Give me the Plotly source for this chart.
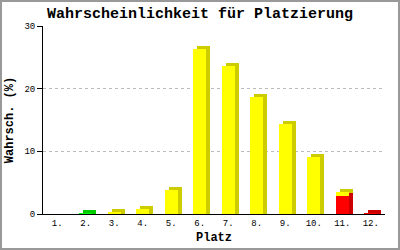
import plotly.graph_objects as go

places = ["1.", "2.", "3.", "4.", "5.", "6.", "7.", "8.", "9.", "10.", "11.", "12."]
green = [0, 0.1, 0, 0, 0, 0, 0, 0, 0, 0, 0, 0]
red = [0, 0, 0, 0, 0, 0, 0, 0, 0, 0, 2.9, 0.1]
yellow = [0, 0, 0.3, 0.8, 3.8, 26.4, 23.6, 18.7, 14.4, 9.1, 0.6, 0]

pos = list(range(1, len(places) + 1))
W = 0.46      # front width (category units)
DX = 0.14     # depth offset x
DY = 0.48     # depth offset y

series = [
    # values, base, front colour, side colour
    (red, [0] * 12, "#FF0000", "#CC0000"),
    (yellow, red, "#FFFF00", "#CCCC00"),
    (green, [0] * 12, "#00FF00", "#00CC00"),
]

fig = go.Figure()

# side / top faces (depth), drawn first
for vals, base, front, side in series:
    sb = [b + DY if b > 0 else 0 for b in base]
    top = [b + v + DY for b, v in zip(base, vals)]
    h = [t - s if v > 0 else None for t, s, v in zip(top, sb, vals)]
    fig.add_trace(go.Bar(
        x=[p + DX for p in pos], y=h, base=sb,
        width=W, marker=dict(color=side, line=dict(width=0)),
        showlegend=False, hoverinfo="skip"))
# front faces
for vals, base, front, side in series:
    fig.add_trace(go.Bar(
        x=pos, y=[v if v > 0 else None for v in vals], base=base,
        width=W, marker=dict(color=front, line=dict(width=0)),
        showlegend=False))

mono = "Liberation Mono, DejaVu Sans Mono, monospace"

fig.update_layout(
    width=400, height=250,
    margin=dict(l=43, r=15, t=26, b=36),
    paper_bgcolor="white", plot_bgcolor="white",
    barmode="overlay", bargap=0,
    title=dict(text="<b>Wahrscheinlichkeit für Platzierung</b>",
               font=dict(family=mono, size=15, color="black"),
               x=0.5, xanchor="center", y=1 - 13 / 250, yanchor="middle"),
    font=dict(family=mono, color="black"),
    xaxis=dict(range=[0.5, 12.5], tickvals=pos, ticktext=places,
               showgrid=False, zeroline=False, showline=True,
               linecolor="black", linewidth=1, ticks="", automargin=False,
               tickfont=dict(family=mono, size=9, color="black"),
               title=dict(text="<b>Platz</b>", standoff=4,
                          font=dict(family=mono, size=12, color="black")),
               fixedrange=True),
    yaxis=dict(range=[0, 30], tickvals=[0, 10, 20, 30], automargin=False,
               showgrid=True, gridcolor="#BBBBBB", griddash="3px,3px", gridwidth=1,
               zeroline=False, showline=True, linecolor="black", linewidth=1,
               ticks="outside", ticklen=5, tickcolor="black",
               tickfont=dict(family=mono, size=9, color="black"),
               title=dict(text="<b>Wahrsch. (%)</b>", standoff=8,
                          font=dict(family=mono, size=12, color="black")),
               fixedrange=True),
)

# gray frame around the whole picture (paper coordinates relative to plot area)
pw, ph = 400 - 43 - 15, 250 - 26 - 36
fig.add_shape(type="rect", xref="paper", yref="paper",
              x0=-43 / pw, x1=(400 - 43) / pw,
              y0=-36 / ph, y1=(250 - 36) / ph,
              line=dict(color="#999999", width=4), layer="above")

fig.write_html("out.html", config={"displayModeBar": False})
